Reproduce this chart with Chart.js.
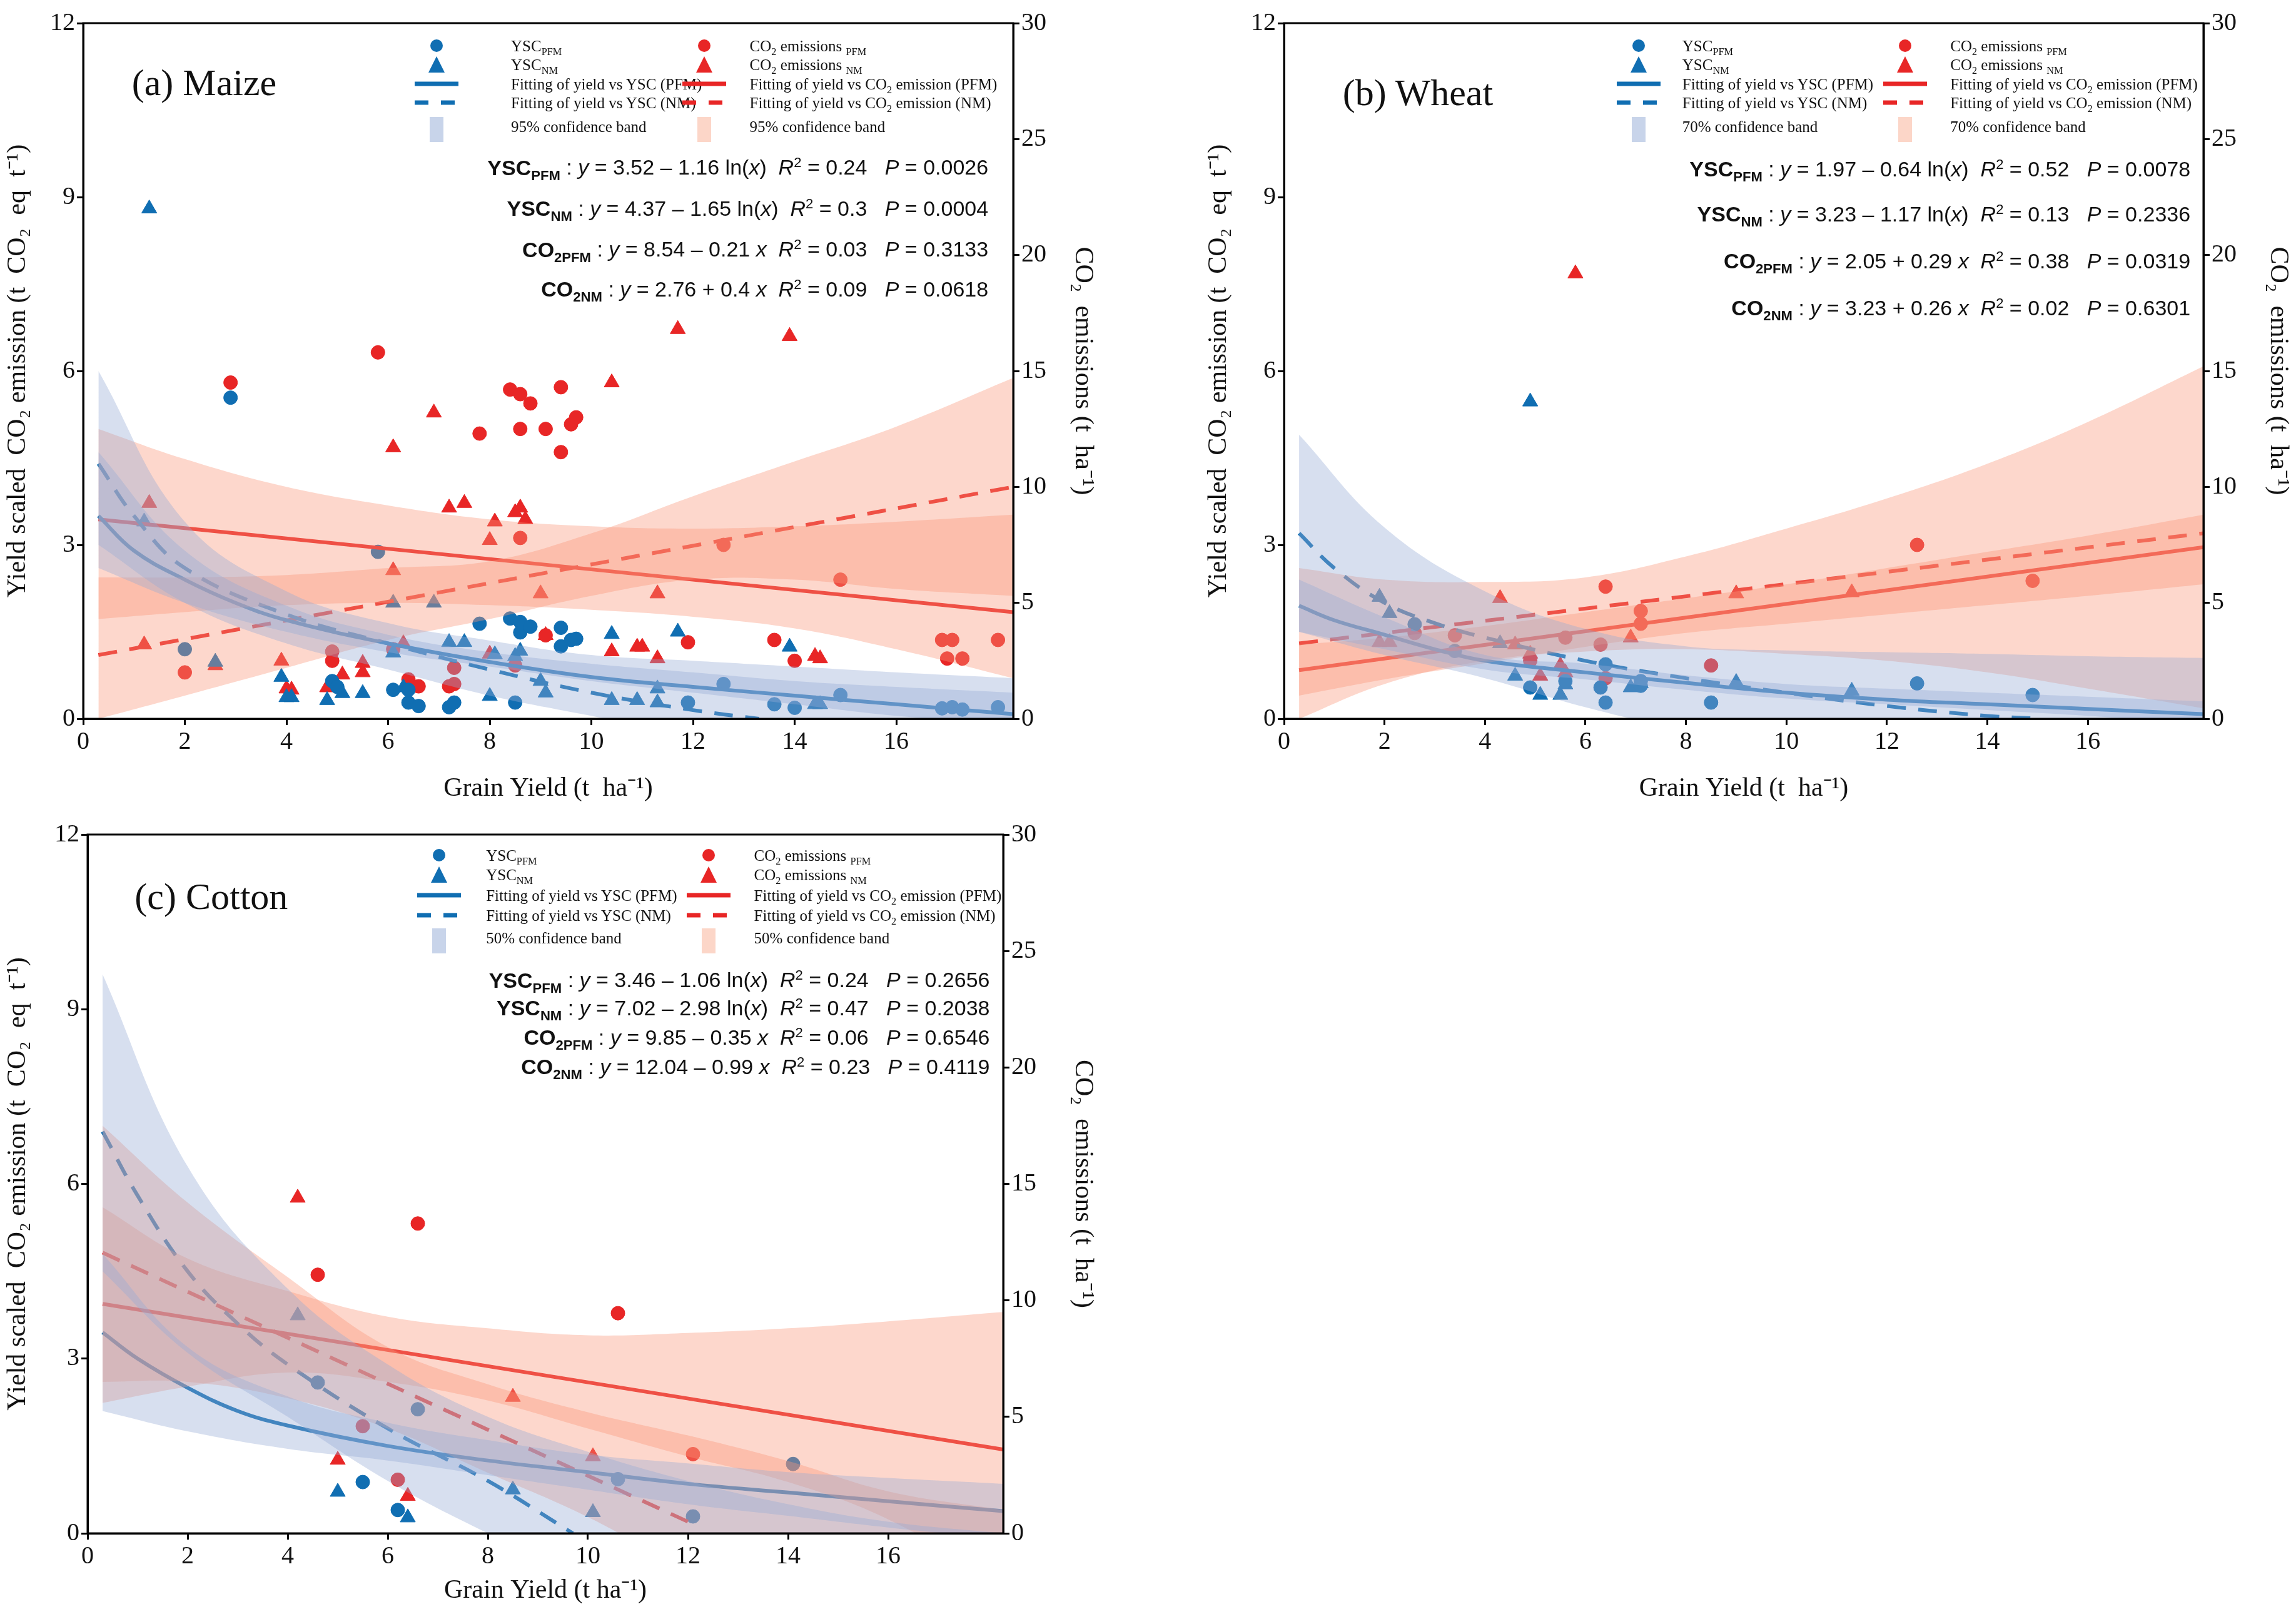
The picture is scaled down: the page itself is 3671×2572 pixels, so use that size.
<!DOCTYPE html>
<html>
<head>
<meta charset="utf-8">
<script src="https://cdn.jsdelivr.net/npm/chart.js@4.4.0/dist/chart.umd.min.js"></script>
<style>
  body { margin: 0; background: #fff; width: 3671px; height: 2572px; position: relative; overflow: hidden; }
  canvas { position: absolute; }
  .t { position: absolute; white-space: nowrap; color: #111; }
  .leg { font-family: 'Liberation Serif', serif; font-size: 25px; }
  .eq { font-family: 'Liberation Sans Narrow', 'Liberation Sans', sans-serif; font-size: 34px; text-align: right; }
  .ttl { font-family: 'Liberation Serif', serif; font-size: 60px; }
  sub { font-size: 65%; }
  sup { font-size: 65%; }
</style>
</head>
<body>
<canvas id="maize"></canvas>
<canvas id="wheat"></canvas>
<canvas id="cotton"></canvas>
<script>
// ---- (a) Maize ----  red series are in CO2 units (right axis, t/ha)
const maizeYscPfm = [[2.0,1.2],[2.9,5.54],[4.9,0.65],[5.0,0.55],[5.8,2.88],[6.1,0.5],[6.4,0.5],[6.4,0.28],[6.6,0.22],[7.2,0.2],[7.3,0.28],[7.8,1.64],[8.4,1.73],[8.6,1.67],[8.6,1.49],[8.8,1.59],[8.5,0.28],[9.4,1.57],[9.4,1.25],[9.6,1.36],[9.7,1.38],[11.9,0.28],[12.6,0.6],[13.6,0.25],[14.0,0.19],[14.9,0.41],[16.9,0.18],[17.1,0.2],[17.3,0.16],[18.0,0.2]];
const maizeYscNm = [[1.3,8.8],[1.2,3.4],[2.6,0.98],[3.9,0.72],[4.0,0.37],[4.1,0.37],[4.8,0.32],[5.1,0.44],[5.5,0.44],[6.1,2.0],[6.1,1.14],[6.9,2.0],[6.3,0.54],[7.2,1.32],[7.5,1.32],[8.0,0.39],[8.1,1.11],[8.5,1.08],[8.6,1.17],[9.0,0.65],[9.1,0.45],[10.4,1.46],[10.4,0.32],[10.9,0.32],[11.3,0.52],[11.3,0.28],[11.7,1.5],[13.9,1.24],[14.4,0.25],[14.5,0.25]];
const maizeCo2Pfm = [[2.9,14.5],[5.8,15.8],[8.4,14.2],[8.6,14.0],[8.8,13.6],[9.4,14.3],[7.8,12.3],[8.6,12.5],[9.1,12.5],[9.6,12.7],[9.7,13.0],[9.4,11.5],[8.6,7.8],[12.6,7.5],[14.9,6.0],[2.0,2.0],[4.9,2.9],[4.9,2.5],[6.1,3.0],[6.4,1.7],[6.6,1.4],[7.2,1.4],[7.3,2.2],[7.3,1.5],[8.5,2.3],[11.9,3.3],[13.6,3.4],[14.0,2.5],[16.9,3.4],[17.1,3.4],[17.0,2.6],[17.3,2.6],[18.0,3.4],[9.1,3.6]];
const maizeCo2Nm = [[1.3,9.3],[1.2,3.2],[2.6,2.3],[3.9,2.5],[4.0,1.3],[4.1,1.25],[4.8,1.35],[5.1,1.9],[5.5,2.4],[5.5,2.0],[6.1,11.7],[6.1,6.4],[6.3,3.25],[6.9,13.2],[7.2,9.1],[7.5,9.3],[8.0,2.8],[8.0,7.7],[8.1,8.5],[8.5,8.9],[8.6,9.1],[8.7,8.6],[9.0,5.4],[9.1,3.6],[10.4,14.5],[10.4,2.9],[10.9,3.1],[11.0,3.1],[11.3,5.4],[11.3,2.6],[11.7,16.8],[13.9,16.5],[14.4,2.7],[14.5,2.6]];
const maizeFitYscPfm = [[0.3,3.5],[1,2.9],[2,2.4],[3,2.0],[4,1.7],[6,1.3],[8,0.98],[10,0.72],[12,0.55],[14,0.4],[16,0.25],[18.3,0.08]];
const maizeFitYscNm = [[0.3,4.4],[1,3.5],[2,2.6],[4,1.8],[6,1.3],[8,0.85],[10,0.45],[12,0.15],[13.3,0]];
const maizeFitCo2Pfm = [[0.3,8.6],[18.3,4.6]];
const maizeFitCo2Nm = [[0.3,2.75],[18.3,10.0]];
const maizeX = [0.3,2,4,6,8,10,12,14,16,18.3];
const maizeBandYscPfmLo = [2.6,2.0,1.5,1.15,0.9,0.65,0.45,0.25,0.05,-0.1];
const maizeBandYscPfmHi = [4.6,2.9,1.95,1.45,1.15,0.95,0.8,0.65,0.55,0.45];
const maizeBandYscNmLo = [3.0,2.0,1.3,0.85,0.4,0.05,-0.3,-0.6,-0.9,-1.2];
const maizeBandYscNmHi = [6.0,3.4,2.2,1.65,1.35,1.1,1.0,0.9,0.8,0.7];
const maizeBandCo2PfmLo = [4.3,4.6,4.9,5.0,4.9,4.7,4.4,3.9,3.0,1.75];
const maizeBandCo2PfmHi = [12.5,11.2,10.0,9.2,8.6,8.3,8.2,8.3,8.5,8.8];
const maizeBandCo2NmLo = [0,1.0,2.2,3.4,4.3,5.3,6.0,6.0,5.6,5.3];
const maizeBandCo2NmHi = [6.1,6.1,6.2,6.5,6.8,8.0,9.6,11.1,12.6,14.7];

// ---- (b) Wheat ----
const wheatYscPfm = [[2.6,1.63],[3.4,1.17],[4.9,0.54],[5.6,0.65],[6.3,0.54],[6.4,0.28],[6.4,0.94],[7.1,0.65],[7.1,0.57],[8.5,0.28],[12.6,0.61],[14.9,0.41]];
const wheatYscNm = [[1.9,2.1],[2.1,1.82],[4.3,1.3],[4.6,0.74],[5.1,0.41],[5.5,0.41],[5.6,0.59],[4.9,5.47],[6.9,0.54],[7.1,0.61],[9.0,0.63],[11.3,0.48]];
const wheatCo2Pfm = [[2.6,3.7],[3.4,3.6],[4.9,2.5],[5.6,3.5],[6.3,3.2],[6.4,5.7],[6.4,1.75],[7.1,4.65],[7.1,4.1],[8.5,2.3],[12.6,7.5],[14.9,5.95]];
const wheatCo2Nm = [[1.9,3.3],[2.1,3.3],[4.3,5.2],[4.6,3.2],[4.9,2.8],[5.1,1.85],[5.5,2.3],[5.6,2.0],[5.8,19.2],[6.9,3.5],[9.0,5.4],[11.3,5.45]];
const wheatFitYscPfm = [[0.3,1.95],[1,1.7],[2,1.45],[3,1.2],[4,1.0],[6,0.8],[8,0.62],[10,0.45],[12,0.33],[14,0.25],[16,0.17],[18.3,0.08]];
const wheatFitYscNm = [[0.3,3.2],[1,2.6],[2,2.0],[3,1.65],[4,1.4],[6,1.0],[8,0.7],[10,0.45],[12,0.22],[14,0.05],[15.1,0]];
const wheatFitCo2Pfm = [[0.3,2.1],[18.3,7.4]];
const wheatFitCo2Nm = [[0.3,3.25],[18.3,8.0]];
const wheatX = [0.3,2,4,6,8,10,12,14,16,18.3];
const wheatBandYscPfmLo = [1.5,1.2,0.85,0.68,0.5,0.35,0.25,0.15,0.05,-0.1];
const wheatBandYscPfmHi = [2.4,1.75,1.1,0.95,0.75,0.6,0.52,0.45,0.38,0.3];
const wheatBandYscNmLo = [1.5,1.1,0.7,0.2,-0.2,-0.5,-0.8,-1.0,-1.2,-1.4];
const wheatBandYscNmHi = [4.9,3.3,2.2,1.55,1.25,1.18,1.15,1.12,1.08,1.05];
const wheatBandCo2PfmLo = [1.0,1.7,2.4,3.1,3.7,4.1,4.5,4.9,5.3,5.8];
const wheatBandCo2PfmHi = [3.2,3.5,4.0,4.6,5.2,5.8,6.5,7.2,7.9,8.8];
const wheatBandCo2NmLo = [0,1.5,2.5,2.9,3.0,2.8,2.5,2.0,1.3,0.45];
const wheatBandCo2NmHi = [6.5,6.0,5.9,6.1,7.0,8.2,9.5,11.0,12.8,15.2];

// ---- (c) Cotton ----
const cottonYscPfm = [[4.6,2.59],[6.6,2.13],[5.5,0.88],[6.2,0.4],[10.6,0.93],[12.1,0.29],[14.1,1.19]];
const cottonYscNm = [[4.2,3.74],[5.0,0.71],[6.4,0.27],[8.5,0.75],[10.1,0.36]];
const cottonCo2Pfm = [[4.6,11.1],[6.6,13.3],[5.5,4.6],[6.2,2.3],[10.6,9.45],[12.1,3.4]];
const cottonCo2Nm = [[4.2,14.4],[5.0,3.15],[6.4,1.6],[8.5,5.85],[10.1,3.3]];
const cottonFitYscPfm = [[0.3,3.45],[1,3.0],[2,2.5],[3,2.1],[4,1.85],[6,1.5],[8,1.25],[10,1.05],[12,0.85],[14,0.7],[16,0.55],[18.3,0.38]];
const cottonFitYscNm = [[0.3,6.9],[1,5.8],[2,4.5],[3,3.6],[4,2.9],[6,1.8],[8,0.9],[9.7,0]];
const cottonFitCo2Pfm = [[0.3,9.85],[18.3,3.6]];
const cottonFitCo2Nm = [[0.3,12.05],[12.2,0.3]];
const cottonX = [0.3,2,4,6,8,10,12,14,16,18.3];
const cottonBandYscPfmLo = [2.1,1.75,1.45,1.25,1.0,0.75,0.5,0.3,0.1,-0.1];
const cottonBandYscPfmHi = [4.8,3.2,2.35,1.9,1.6,1.35,1.2,1.05,0.95,0.85];
const cottonBandYscNmLo = [4.5,3.1,2.0,0.9,0,-0.8,-1.5,-2.2,-2.8,-3.5];
const cottonBandYscNmHi = [9.6,6.3,4.2,2.9,2.0,1.4,0.9,0.5,0.2,0];
const cottonBandCo2PfmLo = [5.6,6.3,6.9,6.5,5.7,4.5,3.3,2.2,0.6,-2.2];
const cottonBandCo2PfmHi = [14.0,11.8,10.4,9.3,8.8,8.5,8.6,8.8,9.1,9.5];
const cottonBandCo2NmLo = [6.5,6.5,5.8,4.5,2.6,0.7,-1.6,-3.4,-5,-7];
const cottonBandCo2NmHi = [17.5,14.2,11.0,8.0,6.4,5.2,4.2,3.1,1.8,1.0];

const BLUE = 'rgb(16,110,178)';
const RED = 'rgb(232,38,38)';
const BLUE_BAND = 'rgba(150,172,212,0.38)';
const RED_BAND = 'rgba(250,150,120,0.38)';

function pts(a) { return a.map(p => ({ x: p[0], y: p[1] })); }
function band(xs, lo, hi, color, axis) {
    return [
        { type: 'line', data: xs.map((x, i) => ({ x: x, y: hi[i] })), yAxisID: axis, borderWidth: 0, pointRadius: 0, backgroundColor: color, fill: '+1', tension: 0.4 },
        { type: 'line', data: xs.map((x, i) => ({ x: x, y: lo[i] })), yAxisID: axis, borderWidth: 0, pointRadius: 0, fill: false, tension: 0.4 }
    ];
}
function fit(a, color, axis, dashed) {
    return { type: 'line', data: pts(a), yAxisID: axis, borderColor: color, borderWidth: 6, borderDash: dashed ? [30, 20] : [], pointRadius: 0, fill: false, tension: 0.4 };
}
function scat(a, color, axis, style) {
    return { type: 'scatter', data: pts(a), yAxisID: axis, backgroundColor: color, borderColor: color, pointStyle: style, pointRadius: style === 'triangle' ? 14 : 11 };
}

const frame = {
    id: 'frame',
    afterDraw(chart) {
        const a = chart.chartArea, c = chart.ctx;
        c.save(); c.strokeStyle = '#000'; c.lineWidth = 3;
        c.strokeRect(a.left, a.top, a.right - a.left, a.bottom - a.top);
        c.restore();
    }
};

function makePanel(id, left, top, w, h, area, d) {
    const cv = document.getElementById(id);
    cv.style.left = left + 'px'; cv.style.top = top + 'px';
    cv.width = w; cv.height = h;
    const tickFont = { family: 'Liberation Serif', size: 40 };
    const titleFont = { family: 'Liberation Serif', size: 42 };
    const axisCommon = {
        grid: { drawOnChartArea: false, drawTicks: true, tickLength: 10, color: '#000', lineWidth: 3 },
        border: { display: true, color: '#000', width: 3 },
        ticks: { font: tickFont, color: '#111' }
    };
    const datasets = [].concat(
        band(d.x, d.bYscNmLo, d.bYscNmHi, BLUE_BAND, 'y'),
        band(d.x, d.bYscPfmLo, d.bYscPfmHi, BLUE_BAND, 'y'),
        band(d.x, d.bCo2NmLo, d.bCo2NmHi, RED_BAND, 'y1'),
        band(d.x, d.bCo2PfmLo, d.bCo2PfmHi, RED_BAND, 'y1'),
        [fit(d.fYscPfm, BLUE, 'y', false), fit(d.fYscNm, BLUE, 'y', true),
         fit(d.fCo2Pfm, RED, 'y1', false), fit(d.fCo2Nm, RED, 'y1', true),
         scat(d.yscPfm, BLUE, 'y', 'circle'), scat(d.yscNm, BLUE, 'y', 'triangle'),
         scat(d.co2Pfm, RED, 'y1', 'circle'), scat(d.co2Nm, RED, 'y1', 'triangle')]
    );
    new Chart(cv, {
        type: 'scatter',
        data: { datasets: datasets },
        plugins: [frame],
        options: {
            responsive: false, animation: false,
            layout: { padding: { top: area.top, left: 0, right: 0, bottom: 0 } },
            plugins: { legend: { display: false }, tooltip: { enabled: false } },
            scales: {
                x: Object.assign({}, axisCommon, {
                    type: 'linear', min: 0, max: 18.3,
                    ticks: { font: tickFont, color: '#111', stepSize: 2, maxRotation: 0 },
                    afterBuildTicks: s => { s.ticks = s.ticks.filter(t => t.value % 2 === 0); },
                    afterFit: s => { s.height = area.bottom; },
                    title: { display: true, text: d.xTitle, font: titleFont, color: '#111', padding: { top: 4 } }
                }),
                y: Object.assign({}, axisCommon, {
                    position: 'left', min: 0, max: 12,
                    ticks: { font: tickFont, color: '#111', stepSize: 3 },
                    afterFit: s => { s.width = area.left; },
                    title: { display: true, text: 'Yield scaled  CO\u2082 emission (t  CO\u2082  eq  t\u207B\u00B9)', font: titleFont, color: '#111' }
                }),
                y1: Object.assign({}, axisCommon, {
                    position: 'right', min: 0, max: 30,
                    ticks: { font: tickFont, color: '#111', stepSize: 5 },
                    afterFit: s => { s.width = area.right; },
                    title: { display: true, text: 'CO\u2082  emissions (t  ha\u207B\u00B9)', font: titleFont, color: '#111' }
                })
            }
        }
    });
}

makePanel('maize', 0, 0, 1760, 1290, { top: 37, left: 133, right: 140, bottom: 141 }, {
    xTitle: 'Grain Yield (t  ha\u207B\u00B9)', x: maizeX,
    yscPfm: maizeYscPfm, yscNm: maizeYscNm, co2Pfm: maizeCo2Pfm, co2Nm: maizeCo2Nm,
    fYscPfm: maizeFitYscPfm, fYscNm: maizeFitYscNm, fCo2Pfm: maizeFitCo2Pfm, fCo2Nm: maizeFitCo2Nm,
    bYscPfmLo: maizeBandYscPfmLo, bYscPfmHi: maizeBandYscPfmHi, bYscNmLo: maizeBandYscNmLo, bYscNmHi: maizeBandYscNmHi,
    bCo2PfmLo: maizeBandCo2PfmLo, bCo2PfmHi: maizeBandCo2PfmHi, bCo2NmLo: maizeBandCo2NmLo, bCo2NmHi: maizeBandCo2NmHi
});
makePanel('wheat', 1920, 0, 1751, 1290, { top: 37, left: 133, right: 148, bottom: 141 }, {
    xTitle: 'Grain Yield (t  ha\u207B\u00B9)', x: wheatX,
    yscPfm: wheatYscPfm, yscNm: wheatYscNm, co2Pfm: wheatCo2Pfm, co2Nm: wheatCo2Nm,
    fYscPfm: wheatFitYscPfm, fYscNm: wheatFitYscNm, fCo2Pfm: wheatFitCo2Pfm, fCo2Nm: wheatFitCo2Nm,
    bYscPfmLo: wheatBandYscPfmLo, bYscPfmHi: wheatBandYscPfmHi, bYscNmLo: wheatBandYscNmLo, bYscNmHi: wheatBandYscNmHi,
    bCo2PfmLo: wheatBandCo2PfmLo, bCo2PfmHi: wheatBandCo2PfmHi, bCo2NmLo: wheatBandCo2NmLo, bCo2NmHi: wheatBandCo2NmHi
});
makePanel('cotton', 0, 1297, 1760, 1275, { top: 37, left: 140, right: 156, bottom: 121 }, {
    xTitle: 'Grain Yield (t ha\u207B\u00B9)', x: cottonX,
    yscPfm: cottonYscPfm, yscNm: cottonYscNm, co2Pfm: cottonCo2Pfm, co2Nm: cottonCo2Nm,
    fYscPfm: cottonFitYscPfm, fYscNm: cottonFitYscNm, fCo2Pfm: cottonFitCo2Pfm, fCo2Nm: cottonFitCo2Nm,
    bYscPfmLo: cottonBandYscPfmLo, bYscPfmHi: cottonBandYscPfmHi, bYscNmLo: cottonBandYscNmLo, bYscNmHi: cottonBandYscNmHi,
    bCo2PfmLo: cottonBandCo2PfmLo, bCo2PfmHi: cottonBandCo2PfmHi, bCo2NmLo: cottonBandCo2NmLo, bCo2NmHi: cottonBandCo2NmHi
});

// legends, titles and equations as html text
const S = 2.341;
function div(cls, html, x, y, extra) {
    const e = document.createElement('div');
    e.className = 't ' + cls; e.innerHTML = html;
    e.style.left = x + 'px'; e.style.top = y + 'px';
    if (extra) Object.assign(e.style, extra);
    document.body.appendChild(e);
    return e;
}
function sample(kind, color) {
    if (kind === 'circle') return `<svg width="70" height="30"><circle cx="35" cy="15" r="10" fill="${color}"/></svg>`;
    if (kind === 'tri') return `<svg width="70" height="30"><polygon points="35,2 48,28 22,28" fill="${color}"/></svg>`;
    if (kind === 'line') return `<svg width="70" height="30"><line x1="0" y1="15" x2="70" y2="15" stroke="${color}" stroke-width="7"/></svg>`;
    if (kind === 'dash') return `<svg width="70" height="30"><line x1="0" y1="15" x2="70" y2="15" stroke="${color}" stroke-width="7" stroke-dasharray="22,20"/></svg>`;
    return `<svg width="70" height="40"><rect x="24" y="0" width="22" height="40" fill="${color}"/></svg>`;
}
function legend(mx, tx, rmx, rtx, rows, pct) {
    const L = [
        ['circle', BLUE, 'YSC<sub>PFM</sub>', 'circle', RED, 'CO<sub>2</sub> emissions <sub>PFM</sub>'],
        ['tri', BLUE, 'YSC<sub>NM</sub>', 'tri', RED, 'CO<sub>2</sub> emissions <sub>NM</sub>'],
        ['line', BLUE, 'Fitting of yield vs YSC (PFM)', 'line', RED, 'Fitting of yield vs  CO<sub>2</sub> emission (PFM)'],
        ['dash', BLUE, 'Fitting of yield vs YSC (NM)', 'dash', RED, 'Fitting of yield vs  CO<sub>2</sub> emission (NM)'],
        ['rect', 'rgba(200,212,234,1)', pct + ' confidence band', 'rect', 'rgba(252,214,200,1)', pct + ' confidence band']
    ];
    L.forEach((r, i) => {
        const y = rows[i] * S;
        div('leg', sample(r[0], r[1]), mx * S - 35, y - 17);
        div('leg', r[2], tx * S, y - 15);
        div('leg', sample(r[3], r[4]), rmx * S - 35, y - 17);
        div('leg', r[5], rtx * S, y - 15);
    });
}
function eqs(right, rows, lines) {
    lines.forEach((l, i) => {
        div('eq', l, 0, rows[i] * S - 22, { width: right * S + 'px' });
    });
}
function eq(name, sub, body, r2, p) {
    return `<b>${name}<sub>${sub}</sub></b> : <i>y</i> = ${body} &nbsp;<i>R</i><sup>2</sup> = ${r2} &nbsp; <i>P</i> = ${p}`;
}

div('ttl', '(a) Maize', 90 * S, 58 * S - 38);
legend(298, 349, 481, 512, [32, 45, 58, 71, 87], '95%');
eqs(675, [115, 143, 171, 198], [
    eq('YSC', 'PFM', '3.52 \u2013 1.16 ln(<i>x</i>)', '0.24', '0.0026'),
    eq('YSC', 'NM', '4.37 \u2013 1.65 ln(<i>x</i>)', '0.3', '0.0004'),
    eq('CO', '2PFM', '8.54 \u2013 0.21 <i>x</i>', '0.03', '0.3133'),
    eq('CO', '2NM', '2.76 + 0.4 <i>x</i>', '0.09', '0.0618')
]);

div('ttl', '(b) Wheat', 917 * S, 65 * S - 38);
legend(1119, 1149, 1301, 1332, [32, 45, 58, 71, 87], '70%');
eqs(1496, [116, 147, 179, 211], [
    eq('YSC', 'PFM', '1.97 \u2013 0.64 ln(<i>x</i>)', '0.52', '0.0078'),
    eq('YSC', 'NM', '3.23 \u2013 1.17 ln(<i>x</i>)', '0.13', '0.2336'),
    eq('CO', '2PFM', '2.05 + 0.29 <i>x</i>', '0.38', '0.0319'),
    eq('CO', '2NM', '3.23 + 0.26 <i>x</i>', '0.02', '0.6301')
]);

div('ttl', '(c) Cotton', 92 * S, 614 * S - 38);
legend(300, 332, 484, 515, [585, 598, 612, 626, 641], '50%');
eqs(676, [670, 689, 709, 729], [
    eq('YSC', 'PFM', '3.46 \u2013 1.06 ln(<i>x</i>)', '0.24', '0.2656'),
    eq('YSC', 'NM', '7.02 \u2013 2.98 ln(<i>x</i>)', '0.47', '0.2038'),
    eq('CO', '2PFM', '9.85 \u2013 0.35 <i>x</i>', '0.06', '0.6546'),
    eq('CO', '2NM', '12.04 \u2013 0.99 <i>x</i>', '0.23', '0.4119')
]);
</script>
</body>
</html>
